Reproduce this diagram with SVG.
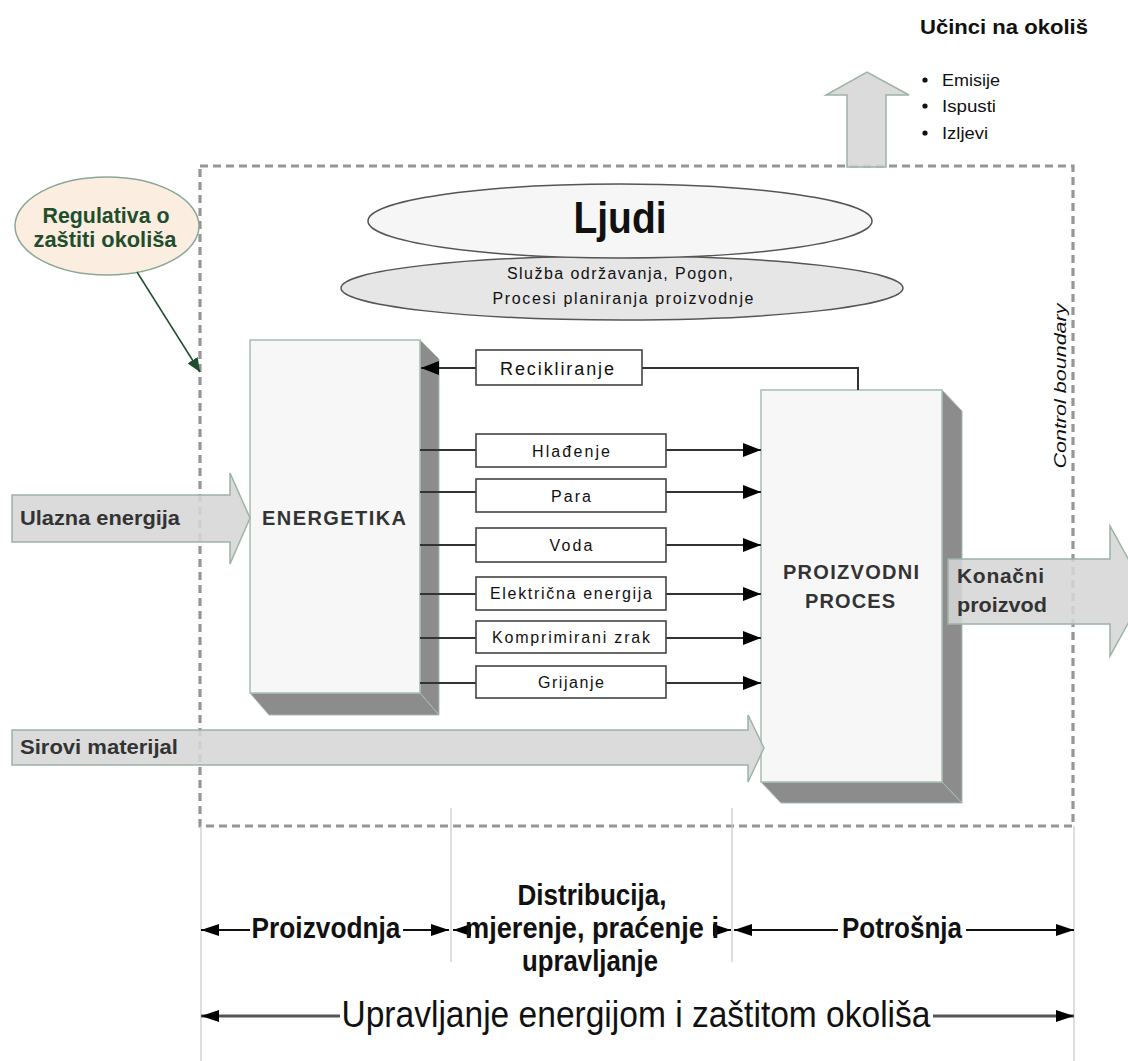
<svg xmlns="http://www.w3.org/2000/svg" width="1128" height="1061" viewBox="0 0 1128 1061">
<defs>
<style>
text{font-family:"Liberation Sans",Arial,sans-serif;fill:#111}
.b{font-weight:bold}
.lbl{font-weight:bold;fill:#333;font-size:21px}
.box{fill:#f7f7f7;stroke:#a6bdb0;stroke-width:1.5}
.depth{fill:#8c8c8c;stroke:#a6bdb0;stroke-width:1}
.ub{fill:#fff;stroke:#444;stroke-width:1.6}
.ut{font-size:16px;text-anchor:middle}
.conn{stroke:#333;stroke-width:2;fill:none}
.bigarrow{fill:#d6d6d6;fill-opacity:0.88;stroke:#9cb4a6;stroke-width:1.5}
.bot{stroke:#111;stroke-width:2;fill:none}
.bot2{stroke:#555;stroke-width:3;fill:none}
.vl{stroke:#c8c8c8;stroke-width:1.2}
</style>
<marker id="ah" viewBox="0 0 18 14" refX="18" refY="7" markerWidth="18" markerHeight="14" markerUnits="userSpaceOnUse" orient="auto"><path d="M0,0 L18,7 L0,14 z" fill="#000"/></marker>
<marker id="ahs" viewBox="0 0 18 12" refX="18" refY="6" markerWidth="18" markerHeight="12" markerUnits="userSpaceOnUse" orient="auto"><path d="M0,0 L18,6 L0,12 z" fill="#000"/></marker>
<marker id="ahg" viewBox="0 0 14 12" refX="14" refY="6" markerWidth="14" markerHeight="12" markerUnits="userSpaceOnUse" orient="auto"><path d="M0,0 L14,6 L0,12 z" fill="#1f4e2c"/></marker>
</defs>
<rect width="1128" height="1061" fill="#fff"/>

<g id="boundary">
<rect x="200" y="166" width="873" height="660" fill="none" stroke="#969696" stroke-width="3.2" stroke-dasharray="8 5"/>
<text x="1066" y="386" transform="rotate(-90 1066 386)" font-size="17" font-style="italic" text-anchor="middle" textLength="165" lengthAdjust="spacingAndGlyphs">Control boundary</text>
</g>

<g id="scale-lines">
<line class="vl" x1="201" y1="826" x2="201" y2="1061"/>
<line class="vl" x1="1074" y1="826" x2="1074" y2="1061"/>
<line class="vl" x1="451" y1="808" x2="451" y2="962"/>
<line class="vl" x1="732" y1="808" x2="732" y2="962"/>
</g>

<g id="regulativa">
<ellipse cx="107" cy="226" rx="92" ry="49" fill="#fcede1" stroke="#8aa896" stroke-width="1.5"/>
<text x="106" y="223" font-size="22" class="b" text-anchor="middle" style="fill:#1f4e2c" textLength="127" lengthAdjust="spacingAndGlyphs">Regulativa o</text>
<text x="105" y="247" font-size="22" class="b" text-anchor="middle" style="fill:#1f4e2c" textLength="143" lengthAdjust="spacingAndGlyphs">zaštiti okoliša</text>
</g>

<g id="ucinci">
<polygon class="bigarrow" points="847,167 847,95 826,95 867,72 909,95 886,95 886,167"/>
<text x="920" y="34" font-size="20" class="b" textLength="168" lengthAdjust="spacingAndGlyphs">Učinci na okoliš</text>
<circle cx="925" cy="80" r="2.6" fill="#111"/>
<circle cx="925" cy="106" r="2.6" fill="#111"/>
<circle cx="925" cy="133" r="2.6" fill="#111"/>
<text x="942" y="86" font-size="16" textLength="58" lengthAdjust="spacingAndGlyphs">Emisije</text>
<text x="942" y="112" font-size="16" textLength="54" lengthAdjust="spacingAndGlyphs">Ispusti</text>
<text x="942" y="139" font-size="16" textLength="46" lengthAdjust="spacingAndGlyphs">Izljevi</text>
</g>

<g id="ljudi-sub">
<ellipse cx="622" cy="288" rx="281" ry="32" fill="#e6e6e6" stroke="#555" stroke-width="1.5"/>
<text x="620" y="279" font-size="16" text-anchor="middle" textLength="226">Služba održavanja, Pogon,</text>
<text x="623" y="304" font-size="16" text-anchor="middle" textLength="261">Procesi planiranja proizvodnje</text>
</g>
<g id="ljudi">
<ellipse cx="620" cy="221" rx="252" ry="37" fill="#f6f6f6" stroke="#555" stroke-width="1.5"/>
<text x="620" y="233" font-size="44" class="b" text-anchor="middle" textLength="93" lengthAdjust="spacingAndGlyphs">Ljudi</text>
</g>

<g id="energetika">
<polygon class="depth" points="420,340 439,359 439,715 420,693"/>
<polygon class="depth" points="250,693 420,693 439,715 269,715"/>
<rect class="box" x="250" y="340" width="170" height="353"/>
<text x="262" y="525" font-size="20" class="b" style="fill:#333" textLength="144">ENERGETIKA</text>
</g>

<g id="proizvodni">
<polygon class="depth" points="942,390 962,411 962,803 942,782"/>
<polygon class="depth" points="761,782 942,782 962,803 781,803"/>
<rect class="box" x="761" y="390" width="181" height="392"/>
<text x="851" y="579" font-size="20" class="b" text-anchor="middle" style="fill:#333" textLength="136">PROIZVODNI</text>
<text x="850" y="608" font-size="20" class="b" text-anchor="middle" style="fill:#333" textLength="90">PROCES</text>
</g>

<g id="connectors">
<path class="conn" d="M858,390 V368 H642"/>
<line class="conn" x1="476" y1="368" x2="421" y2="368" marker-end="url(#ah)"/>
<line class="conn" x1="420" y1="450" x2="476" y2="450"/>
<line class="conn" x1="666" y1="450" x2="761" y2="450" marker-end="url(#ah)"/>
<line class="conn" x1="420" y1="492" x2="476" y2="492"/>
<line class="conn" x1="666" y1="492" x2="761" y2="492" marker-end="url(#ah)"/>
<line class="conn" x1="420" y1="545" x2="476" y2="545"/>
<line class="conn" x1="666" y1="545" x2="761" y2="545" marker-end="url(#ah)"/>
<line class="conn" x1="420" y1="594" x2="476" y2="594"/>
<line class="conn" x1="666" y1="594" x2="761" y2="594" marker-end="url(#ah)"/>
<line class="conn" x1="420" y1="638" x2="476" y2="638"/>
<line class="conn" x1="666" y1="638" x2="761" y2="638" marker-end="url(#ah)"/>
<line class="conn" x1="420" y1="683" x2="476" y2="683"/>
<line class="conn" x1="666" y1="683" x2="761" y2="683" marker-end="url(#ah)"/>
<line x1="137" y1="272" x2="200" y2="372" stroke="#1f4e2c" stroke-width="1.5" marker-end="url(#ahg)"/>
</g>

<g id="recikliranje">
<rect class="ub" x="476" y="350" width="166" height="35"/>
<text x="557" y="375" font-size="18" text-anchor="middle" textLength="114">Recikliranje</text>
</g>
<g id="hladenje">
<rect class="ub" x="476" y="434" width="190" height="33"/>
<text class="ut" x="571" y="457" textLength="78">Hlađenje</text>
</g>
<g id="para">
<rect class="ub" x="476" y="479" width="190" height="33"/>
<text class="ut" x="571" y="502" textLength="40">Para</text>
</g>
<g id="voda">
<rect class="ub" x="476" y="528" width="190" height="34"/>
<text class="ut" x="571" y="551" textLength="43">Voda</text>
</g>
<g id="elektricna">
<rect class="ub" x="476" y="577" width="190" height="33"/>
<text class="ut" x="571" y="599" textLength="162">Električna energija</text>
</g>
<g id="komprimirani">
<rect class="ub" x="476" y="621" width="190" height="32"/>
<text class="ut" x="571" y="643" textLength="158">Komprimirani zrak</text>
</g>
<g id="grijanje">
<rect class="ub" x="476" y="666" width="190" height="32"/>
<text class="ut" x="571" y="688" textLength="66">Grijanje</text>
</g>

<g id="ulazna">
<polygon class="bigarrow" points="12,495 230,495 230,473 250,518 230,564 230,542 12,542"/>
<text class="lbl" x="20" y="525" textLength="160" lengthAdjust="spacingAndGlyphs">Ulazna energija</text>
</g>
<g id="sirovi">
<polygon class="bigarrow" points="12,730 748,730 748,715 764,748 748,782 748,765 12,765"/>
<text class="lbl" x="20" y="754" textLength="158" lengthAdjust="spacingAndGlyphs">Sirovi materijal</text>
</g>
<g id="konacni">
<polygon class="bigarrow" points="948,559 1110,559 1110,526 1146,591 1110,656 1110,624 948,624"/>
<text class="lbl" x="957" y="583" textLength="87">Konačni</text>
<text class="lbl" x="957" y="612" textLength="90" lengthAdjust="spacingAndGlyphs">proizvod</text>
</g>

<g id="scale">
<line class="bot" x1="250" y1="930" x2="201" y2="930" marker-end="url(#ahs)"/>
<line class="bot" x1="403" y1="930" x2="449" y2="930" marker-end="url(#ahs)"/>
<line class="bot" x1="466" y1="930" x2="453" y2="930" marker-end="url(#ahs)"/>
<line class="bot" x1="720" y1="930" x2="731" y2="930" marker-end="url(#ahs)"/>
<line class="bot" x1="838" y1="930" x2="734" y2="930" marker-end="url(#ahs)"/>
<line class="bot" x1="966" y1="930" x2="1074" y2="930" marker-end="url(#ahs)"/>
<line class="bot2" x1="340" y1="1016" x2="201" y2="1016" marker-end="url(#ahs)"/>
<line class="bot2" x1="933" y1="1016" x2="1074" y2="1016" marker-end="url(#ahs)"/>
<text x="326" y="938" font-size="30" class="b" text-anchor="middle" textLength="149" lengthAdjust="spacingAndGlyphs">Proizvodnja</text>
<text x="592" y="905" font-size="30" class="b" text-anchor="middle" textLength="149" lengthAdjust="spacingAndGlyphs">Distribucija,</text>
<text x="592" y="938" font-size="30" class="b" text-anchor="middle" textLength="254" lengthAdjust="spacingAndGlyphs">mjerenje, praćenje i</text>
<text x="590" y="971" font-size="30" class="b" text-anchor="middle" textLength="136" lengthAdjust="spacingAndGlyphs">upravljanje</text>
<text x="902" y="938" font-size="30" class="b" text-anchor="middle" textLength="120" lengthAdjust="spacingAndGlyphs">Potrošnja</text>
<text x="636" y="1027" font-size="36" text-anchor="middle" textLength="589" lengthAdjust="spacingAndGlyphs">Upravljanje energijom i zaštitom okoliša</text>
</g>
</svg>
